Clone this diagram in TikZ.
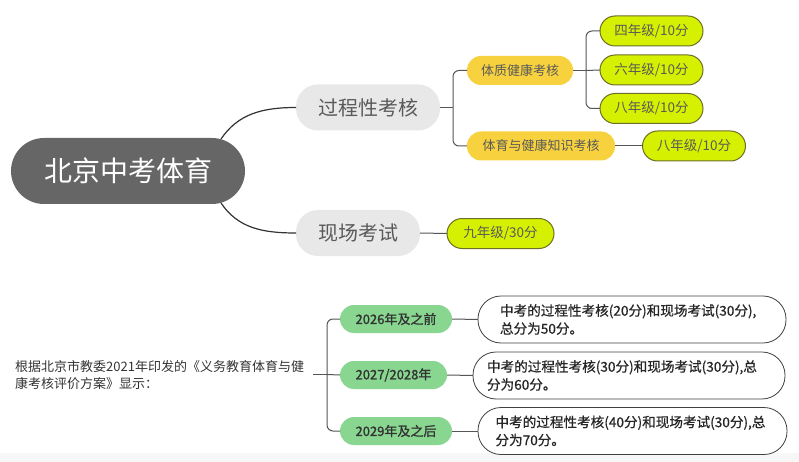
\documentclass[tikz,border=0pt]{standalone}
\usepackage{fontspec}
\setmainfont{Noto Sans CJK SC}
\newfontfamily\semib[FakeBold=1.3]{Noto Sans CJK SC}
\newfontfamily\lightb[FakeBold=0.6]{Noto Sans CJK SC}
\usetikzlibrary{calc}
\definecolor{rootc}{HTML}{666666}
\definecolor{lvone}{HTML}{E8E8E8}
\definecolor{lvtxt}{HTML}{5A5A5A}
\definecolor{yel}{HTML}{F7D23E}
\definecolor{lime}{HTML}{D5F000}
\definecolor{limeline}{HTML}{6E6E2A}
\definecolor{grn}{HTML}{88D690}
\definecolor{conn}{HTML}{555555}
\tikzset{
  pill/.style={rectangle, rounded corners=#1, inner sep=0pt, outer sep=0pt},
  rootbox/.style={pill=33pt, fill=rootc, text=white, minimum width=234pt, minimum height=66pt, font=\fontsize{28}{30}\selectfont},
  lvonebox/.style={pill=22pt, fill=lvone, text=lvtxt, minimum height=46pt, font=\fontsize{20}{22}\selectfont},
  yelbox/.style={pill=14pt, fill=yel, text=lvtxt, minimum height=29pt, font=\fontsize{13}{15}\selectfont},
  limebox/.style={pill=15pt, fill=lime, draw=limeline, line width=1pt, text=lvtxt, minimum width=103pt, minimum height=30pt, font=\fontsize{13.5}{15}\selectfont},
  grnbox/.style={pill=14pt, fill=grn, text=black!80, minimum height=28pt, font=\semib\fontsize{13}{15}\selectfont},
  wbox/.style={pill=23pt, draw=black!75, line width=0.8pt, fill=white, minimum height=47pt, align=left, text=black!85, font=\lightb\fontsize{13.6}{18}\selectfont},
  link/.style={draw=conn, line width=1pt},
  blink/.style={draw=black!80, line width=1.2pt},
}
\begin{document}
\begin{tikzpicture}[x=1pt, y=-1pt]
\useasboundingbox (0,0) rectangle (799,462);
\fill[black!3] (0,453) rectangle (799,462);

% root and level 1
\node[rootbox] (root) at (128,171) {北京中考体育};
\node[lvonebox, minimum width=144pt] (proc) at (368,107.5) {过程性考核};
\node[lvonebox, minimum width=124pt] (live) at (358,233) {现场考试};

\coordinate (rtop) at (221,139);
\coordinate (rbot) at (221,203);
\draw[blink] (rtop) .. controls (238,114) and (262,107.5) .. (proc.west);
\draw[blink] (rbot) .. controls (238,228) and (262,233) .. (live.west);

% level 2
\node[yelbox, minimum width=106pt] (tz) at (520,70.5) {体质健康考核};
\node[yelbox, minimum width=148pt] (zs) at (541,146) {体育与健康知识考核};
\coordinate (b1) at (453,107.5);
\draw[link] (proc.east) -- (b1);
\draw[link, rounded corners=6pt] (b1) |- (tz.west);
\draw[link, rounded corners=6pt] (b1) |- (zs.west);

% level 3
\node[limebox] (g4) at (651.5,31) {四年级/10分};
\node[limebox] (g6) at (651.5,70) {六年级/10分};
\node[limebox] (g8) at (651.5,108.5) {八年级/10分};
\node[limebox] (g8b) at (694,146) {八年级/10分};
\node[limebox, minimum width=107pt] (g9) at (500.5,233.5) {九年级/30分};
\coordinate (b2) at (586,70.5);
\draw[link] (tz.east) -- (b2);
\draw[link, rounded corners=6pt] (b2) |- (g4.west);
\draw[link] (b2) -- (g6.west);
\draw[link, rounded corners=6pt] (b2) |- (g8.west);
\draw[link] (zs.east) -- (g8b.west);
\draw[link] (live.east) -- (g9.west);

% bottom part
\node[anchor=west, align=left, inner sep=0pt, text=black!80, font=\fontsize{13}{17}\selectfont] (intro) at (15,375)
  {根据北京市教委2021年印发的《义务教育体育与健\\康考核评价方案》显示：};
\coordinate (bs) at (313,374.5);
\coordinate (b3) at (327,374.5);
\node[grnbox, minimum width=112pt] (y26) at (396,319) {2026年及之前};
\node[grnbox, minimum width=107pt] (y27) at (393.5,375) {2027/2028年};
\node[grnbox, minimum width=112pt] (y29) at (396,431) {2029年及之后};
\draw[link] (bs) -- (b3);
\draw[link, rounded corners=6pt] (b3) |- (y26.west);
\draw[link] (b3) -- (y27.west);
\draw[link, rounded corners=6pt] (b3) |- (y29.west);

\node[wbox, minimum width=308pt, text width=264pt] (t26) at (632,319.5)
  {中考的过程性考核(20分)和现场考试(30分),\\总分为50分。};
\node[wbox, minimum width=312pt, text width=284pt] (t27) at (629,375.5)
  {中考的过程性考核(30分)和现场考试(30分),总\\分为60分。};
\node[wbox, minimum width=309pt, text width=274pt] (t29) at (632.5,431)
  {中考的过程性考核(40分)和现场考试(30分),总\\分为70分。};
\draw[link] (y26.east) -- (t26.west);
\draw[link] (y27.east) -- (t27.west);
\draw[link] (y29.east) -- (t29.west);
\end{tikzpicture}
\end{document}
